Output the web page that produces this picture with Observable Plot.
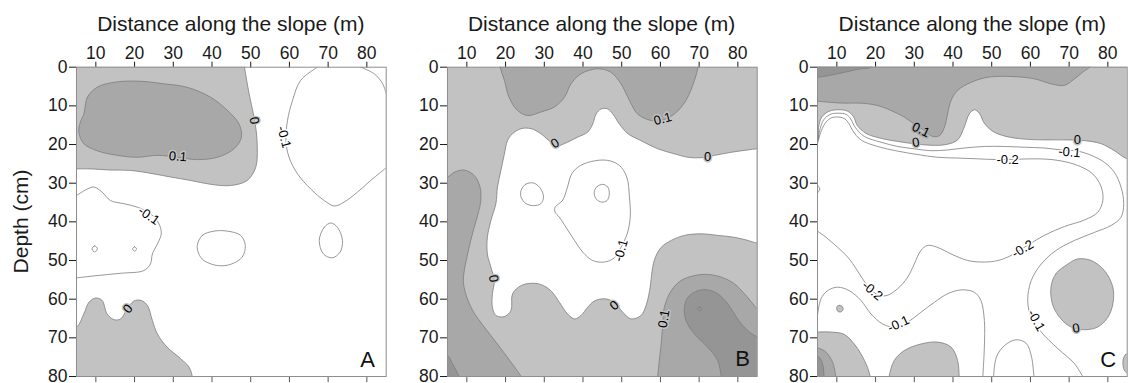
<!DOCTYPE html>
<html><head><meta charset="utf-8">
<script src="https://cdn.jsdelivr.net/npm/d3@7"></script>
<script src="https://cdn.jsdelivr.net/npm/@observablehq/plot@0.6"></script>
<style>
html,body{margin:0;padding:0;background:#fff;}
#wrap{position:relative;width:1131px;height:383px;overflow:hidden;font-family:"Liberation Sans",Arial,sans-serif;color:#1a1a1a;}
.xt{position:absolute;top:13px;width:320px;text-align:center;font-size:21px;line-height:21px;white-space:nowrap;}
.yt{position:absolute;width:200px;text-align:center;font-size:21px;line-height:21px;white-space:nowrap;transform:rotate(-90deg);}
</style></head>
<body><div id="wrap"></div>
<script>
// ---------- shared axis data ----------
const xTicks = [10, 20, 30, 40, 50, 60, 70, 80];
const yTicks = [0, 10, 20, 30, 40, 50, 60, 70, 80];
const xDomain = [5, 85];
const yDomain = [0, 80];
const xTitle = "Distance along the slope (m)";
const yTitle = "Depth (cm)";
const panelLetters = [
  {panel: "A", x: 80.2, d: 75.7},
  {panel: "B", x: 81.2, d: 75.5},
  {panel: "C", x: 80.1, d: 75.8}
];

// ---------- Panel A (x = distance m, d = depth cm) ----------
const A_zero_top = [[2,-3],[48.0,-3],[48.4,0],[49.6,6.9],[50.7,12.1],[51.3,15.5],[51.7,20.7],[51.3,25.9],[49.1,29.3],[44.8,30.6],[39.7,30.3],[34.5,29.3],[29.3,28.4],[25.0,27.6],[19.0,26.7],[13.8,26.6],[8.6,26.3],[5,26.3],[2,26.3]];
const A_p01_blob = [[6.9,12.1],[7.8,7.8],[10.3,5.2],[14.7,3.9],[20.7,3.6],[27.6,4.3],[33.6,5.2],[39.7,7.8],[44.0,11.2],[47.0,14.7],[47.6,18.1],[45.7,21.1],[41.4,23.3],[36.2,23.9],[31.0,23.3],[25.9,22.8],[20.7,23.3],[15.5,22.8],[10.3,21.6],[6.9,19.8],[5.6,16.8],[6.0,14.2]];
const A_zero_bottom = [[2,67.2],[5,67.2],[6.9,63.8],[8.2,60.8],[9.9,59.7],[11.6,60.3],[12.9,63.8],[14.7,65.3],[16.4,65.1],[18.1,62.5],[19.8,60.5],[21.6,60.3],[23.3,61.6],[24.6,65.5],[25.9,69.0],[28.4,72.4],[31.9,75.4],[34.1,77.6],[34.9,80],[35.2,83],[2,83]];
const A_m01_left = [[5,33.2],[7.8,31.5],[9.5,31.0],[11.6,32.3],[13.8,34.5],[17.2,35.3],[20.7,36.2],[24.1,37.9],[26.3,40.5],[26.9,43.1],[25.9,45.7],[24.6,48.3],[24.1,50.9],[22.4,52.6],[16.4,53.3],[10.3,53.9],[5,54.5]];
const A_dot1 = [[9.0,47.0],[9.7,46.2],[10.4,47.0],[9.7,47.8]];
const A_dot2 = [[19.5,47.0],[20.0,46.4],[20.5,47.0],[20.0,47.6]];
const A_m01_mid = [[36.2,46.1],[37.5,43.5],[40.5,42.4],[44.0,42.4],[47.4,43.5],[48.6,46.1],[47.8,49.1],[44.8,51.0],[41.4,51.3],[37.9,50.0],[36.6,48.3]];
const A_m01_small = [[67.7,44.8],[69.0,41.4],[70.7,40.3],[72.4,41.4],[73.7,44.8],[73.1,47.8],[71.1,49.3],[68.8,48.3]];
const A_m01_right = [[67.2,0],[62.9,3.4],[60.8,8.6],[59.5,13.8],[59.1,19.0],[59.9,23.3],[62.1,27.6],[65.5,31.5],[69.0,34.5],[71.6,35.9],[74.1,34.9],[77.6,32.3],[81.0,29.3],[85,26.0]];
const A_m01_corner = [[78.4,0],[81.9,1.7],[84.1,4.3],[85,6.9]];
const A_labels = [
  {x: 50.9, d: 13.8, t: "0", r: 80, halo: "g"},
  {x: 58.6, d: 18.1, t: "-0.1", r: 75, halo: "w"},
  {x: 31.2, d: 23.1, t: "0.1", r: 5, halo: "g"},
  {x: 23.7, d: 38.4, t: "-0.1", r: 35, halo: "w"},
  {x: 18.3, d: 62.5, t: "0", r: -50, halo: "g"}
];

// ---------- Panel B ----------
const B_p01_top = [[18.3,-3],[18.6,0],[19.7,3.4],[20.9,7.8],[23.1,11.2],[25.7,12.5],[29.1,11.6],[32.6,10.3],[35.2,7.8],[36.9,4.3],[39.5,1.7],[43.8,0.4],[47.2,1.3],[49.8,4.3],[52.0,8.6],[54.1,12.1],[57.6,13.8],[60.2,13.8],[63.6,12.1],[66.6,8.6],[68.8,3.4],[69.7,0],[70,-3]];
const B_neg_mid = [[88,21.1],[85,21.1],[82.6,21.4],[78.3,22.0],[74.0,22.8],[70.5,23.4],[67.1,23.3],[63.6,22.4],[59.3,21.1],[55.0,19.0],[51.6,17.2],[49.4,14.7],[47.7,12.1],[46.4,10.8],[44.7,10.8],[43.4,12.1],[42.5,14.7],[41.2,16.8],[38.6,18.1],[36.0,19.4],[33.4,20.3],[31.7,19.4],[29.1,17.2],[26.6,15.9],[24.0,15.9],[21.8,17.2],[20.5,19.0],[19.7,22.4],[18.8,26.7],[17.9,31.0],[17.5,35.3],[16.2,39.7],[15.3,44.0],[15.3,48.3],[16.2,51.7],[17.1,55.2],[16.6,58.6],[16.6,62.1],[17.5,64.2],[19.7,64.5],[21.4,62.9],[21.8,58.6],[24.0,56.5],[26.6,55.9],[29.1,56.2],[31.7,57.8],[33.9,60.8],[36.0,63.8],[37.8,65.1],[39.5,64.2],[41.2,62.1],[42.9,60.5],[45.5,59.9],[48.1,60.8],[50.3,63.4],[52.4,65.1],[55.0,64.2],[56.3,61.6],[57.2,57.8],[58.4,50.0],[60.2,46.6],[62.8,44.8],[66.2,43.5],[70.5,43.1],[74.8,43.5],[79.1,44.0],[82.6,44.8],[85,45.5],[88,45.5]];
const B_m01_face = [[32.8,36.2],[34.7,34.5],[36.0,31.0],[36.9,28.0],[38.6,25.9],[42.1,24.4],[46.4,24.1],[49.4,25.4],[51.3,28.4],[52.0,33.6],[52.2,38.8],[51.4,43.1],[49.8,46.6],[48.1,49.3],[45.5,50.4],[42.5,50.0],[39.9,47.8],[37.8,44.8],[35.6,41.4],[33.9,38.8],[32.8,37.5]];
const B_m01_eye1 = [[24.0,31.9],[25.3,30.2],[27.4,30.0],[29.1,31.5],[29.8,33.6],[29.1,35.3],[27.4,35.8],[25.3,35.3],[24.0,33.6]];
const B_m01_eye2 = [[42.9,32.3],[43.6,30.9],[45.1,30.3],[46.4,31.0],[46.8,32.8],[46.2,34.5],[44.9,34.9],[43.4,34.1]];
const B_p01_left = [[2,28.4],[5,28.4],[6.7,27.2],[9.3,26.6],[11.9,28.0],[13.4,31.0],[13.6,34.5],[12.9,37.9],[11.9,41.4],[11.0,44.8],[10.2,48.3],[9.5,51.7],[9.1,55.2],[9.7,58.6],[11.5,62.9],[14.5,67.2],[17.9,71.6],[21.4,76.3],[24.0,80],[25.5,83],[2,83]];
const B_p02_corner = [[2,74.6],[5,74.6],[6.3,76.7],[8.0,80],[9,83],[2,83]];
const B_p01_right = [[59.0,83],[59.3,80],[59.7,75.9],[60.2,71.6],[60.6,66.4],[61.0,62.1],[62.8,57.8],[65.3,55.2],[68.8,53.9],[72.2,53.6],[75.7,54.3],[79.1,56.0],[81.7,58.6],[83.9,61.2],[85,62.5],[88,64],[88,83]];
const B_p02_right = [[76,83],[75.7,80],[74.8,75.9],[72.2,72.4],[68.8,69.0],[66.6,65.5],[66.2,62.1],[67.1,59.5],[69.7,57.8],[72.2,57.6],[74.8,58.6],[77.4,61.2],[79.1,63.8],[80.9,66.4],[83.0,68.5],[85,69.8],[88,71],[88,83]];
const B_p03_dot = [[69.5,62.5],[70.1,62.0],[70.7,62.5],[70.1,63.0]];
const B_labels = [
  {x: 60.6, d: 13.4, t: "0.1", r: -15, halo: "g"},
  {x: 32.8, d: 19.7, t: "0", r: -30, halo: "g"},
  {x: 72.2, d: 23.1, t: "0", r: 0, halo: "g"},
  {x: 49.8, d: 47.4, t: "-0.1", r: -75, halo: "w"},
  {x: 16.9, d: 54.7, t: "0", r: 80, halo: "g"},
  {x: 48.1, d: 61.6, t: "0", r: -40, halo: "g"},
  {x: 60.9, d: 65.1, t: "0.1", r: -80, halo: "g"}
];

// ---------- Panel C ----------
const C_zero_top = [[2,-3],[88,-3],[88,23.7],[85,23.7],[81.7,21.6],[78.3,19.8],[74.0,19.0],[68.8,18.8],[63.6,18.8],[58.4,18.6],[53.7,17.9],[50.3,16.6],[48.1,14.5],[46.8,11.9],[45.5,11.0],[44.2,12.1],[42.9,15.5],[41.2,18.8],[38.2,20.0],[34.3,20.2],[30.0,19.8],[25.7,19.2],[21.4,18.4],[17.5,17.1],[15.3,15.1],[14.3,12.8],[12.8,11.4],[10.6,11.0],[8.0,11.4],[6.1,12.9],[5.3,15.5],[5,19.0],[2,19.0]];
const C_p01_top = [[2,-3],[2,8.8],[5,8.8],[8.4,9.1],[11.9,9.3],[16.2,9.3],[20.5,9.9],[24.0,11.2],[27.4,12.9],[30.0,14.7],[32.6,16.4],[34.7,17.9],[36.5,17.7],[37.8,15.5],[38.6,12.1],[39.5,8.6],[41.2,6.0],[44.7,3.9],[49.0,2.6],[55.0,2.4],[61.0,3.0],[65.3,4.3],[68.8,4.7],[71.4,3.0],[74.0,0.9],[75.3,0],[77,-3]];
const C_p02_top = [[2,-3],[2,2.6],[5,2.6],[10.2,1.7],[16.2,0.4],[18.8,0],[20,-3]];
const C_m01_main = [[5,19.4],[5.7,15.9],[6.6,13.6],[8.3,12.2],[10.6,11.9],[12.4,12.2],[13.6,13.4],[14.7,15.5],[17.1,17.9],[21.4,19.4],[25.7,20.5],[30.0,21.1],[34.3,21.6],[38.6,21.4],[42.9,20.9],[48.1,20.5],[53.3,20.5],[58.4,20.7],[63.6,20.9],[67.9,21.4],[72.2,21.7],[75.7,22.8],[79.1,24.6],[81.7,27.2],[83.4,31.0],[84.1,35.3],[83.4,38.8],[80.9,40.9],[76.6,42.7],[71.4,44.8],[66.6,47.4],[62.8,50.9],[60.2,55.2],[59.3,60.3],[60.2,64.7],[62.8,68.5],[67.1,72.8],[71.4,76.7],[73.5,80]];
const C_m02_main = [[5,19.8],[6.0,16.4],[7.2,14.2],[8.6,13.1],[10.6,12.9],[12.1,13.4],[13.2,14.7],[14.1,16.4],[16.2,18.8],[20.5,20.5],[25.7,21.7],[30.9,22.6],[36.0,23.3],[41.2,23.5],[46.4,23.7],[51.6,23.9],[56.7,23.8],[61.9,23.7],[67.1,24.1],[72.2,25.4],[76.1,27.6],[78.3,31.0],[78.7,34.5],[77.4,37.5],[74.0,39.5],[68.8,41.2],[63.6,43.5],[58.4,46.6],[55.0,48.7],[51.6,50.0],[48.1,50.4],[43.8,50.0],[39.5,48.3],[36.0,46.6],[33.4,46.1],[31.7,47.4],[30.0,50.9],[28.3,54.3],[25.7,57.3],[22.7,59.1],[20.1,58.6],[17.5,56.0],[15.3,52.6],[12.8,49.1],[10.2,46.6],[7.2,44.0],[5,42.4]];
const C_m01_low = [[5,64.2],[5.9,59.9],[7.6,57.8],[10.2,56.9],[13.2,57.8],[16.2,60.3],[18.8,63.8],[21.8,66.4],[24.8,67.2],[28.3,65.9],[31.7,63.4],[35.2,60.8],[38.6,58.6],[42.1,57.6],[45.5,58.2],[47.2,60.3],[48.1,65.5],[48.1,72.4],[47.7,80]];
const C_arc_bottom = [[50.5,80],[51.2,75.0],[53.3,72.0],[56.3,70.5],[58.9,71.4],[60.3,75.0],[60.9,80]];
const C_edge_bump = [[5,30.5],[5.6,31.5],[5,32.5]];
const C_zero_right = [[65.3,56.9],[66.6,53.4],[69.7,50.9],[72.2,49.6],[75.7,50.0],[79.1,52.6],[81.3,56.9],[81.3,61.2],[80.0,64.7],[77.4,67.2],[74.0,67.9],[70.5,67.2],[67.9,65.1],[65.8,61.6]];
const C_zero_dot = [[10.0,62.0],[10.6,61.6],[11.4,61.9],[11.6,62.7],[11.0,63.3],[10.2,63.1]];
const C_zero_bl = [[2,68.5],[5,68.5],[8.4,68.5],[11.9,69.1],[14.5,71.6],[16.2,74.1],[17.9,77.6],[18.6,80],[19,83],[2,83]];
const C_p01_bl = [[2,72.6],[5,72.6],[7.2,73.7],[8.9,76.3],[9.7,80],[10,83],[2,83]];
const C_p02_bl = [[2,74.6],[5,74.6],[6.3,76.7],[6.7,80],[7,83],[2,83]];
const C_zero_bm = [[23.2,83],[23.5,80],[24.8,75.9],[27.4,73.3],[31.7,71.6],[36.0,71.1],[39.5,72.4],[41.2,75.9],[41.6,80],[41.8,83]];
const C_zero_edge = [[88,73.8],[84.6,74.3],[84.0,75.5],[83.9,76.7],[84.1,78.0],[84.8,79.0],[88,79.5]];
const C_labels = [
  {x: 31.7, d: 16.2, t: "0.1", r: 25, halo: "d"},
  {x: 30.4, d: 19.5, t: "0", r: -10, halo: "g"},
  {x: 72.1, d: 18.7, t: "0", r: 0, halo: "g"},
  {x: 70.1, d: 22.0, t: "-0.1", r: 5, halo: "w"},
  {x: 54.1, d: 24.0, t: "-0.2", r: 0, halo: "w"},
  {x: 58.0, d: 47.0, t: "-0.2", r: -30, halo: "w"},
  {x: 19.2, d: 57.8, t: "-0.2", r: 40, halo: "w"},
  {x: 25.9, d: 66.4, t: "-0.1", r: -25, halo: "w"},
  {x: 61.5, d: 65.5, t: "-0.1", r: 60, halo: "w"},
  {x: 71.8, d: 67.5, t: "0", r: -10, halo: "g"}
];

// ---------- styling ----------
const SHADE = {w: "#ffffff", g: "#c2c2c2", d: "#a8a8a8", k: "#959595"};
const LINE = "#7d7d7d";
const AXIS = "#555";
const FONT = "'Liberation Sans', Arial, Helvetica, sans-serif";

function fillShape(pts, shade) {
  return Plot.line(pts, {x: p => p[0], y: p => p[1], curve: "catmull-rom-closed",
    fill: SHADE[shade], stroke: LINE, strokeWidth: 0.8, clip: true});
}
function lineShape(pts, closed) {
  return Plot.line(pts, {x: p => p[0], y: p => p[1], curve: closed ? "catmull-rom-closed" : "catmull-rom",
    fill: "none", stroke: LINE, strokeWidth: 0.8, clip: true});
}
function labelMarks(labels) {
  return Object.keys(SHADE).map(h => Plot.text(labels.filter(l => l.halo === h), {
    x: "x", y: "d", text: "t", rotate: "r", fontSize: 13, fill: "#000",
    stroke: SHADE[h], strokeWidth: 3, paintOrder: "stroke"
  }));
}

const wrap = document.getElementById("wrap");
const FRAME_L = 76, FRAME_W = 309.7, SVG_W = 390, PANEL_STEP = 370.7;

function panel(i, base, fills, lines, labels) {
  const letter = panelLetters[i];
  const marks = [];
  if (base !== "w") marks.push(Plot.frame({fill: SHADE[base], stroke: "none"}));
  fills.forEach(([pts, s]) => marks.push(fillShape(pts, s)));
  lines.forEach(([pts, c]) => marks.push(lineShape(pts, c)));
  marks.push(...labelMarks(labels));
  marks.push(Plot.text([letter], {x: "x", y: "d", text: "panel", fontSize: 22, fill: "#111"}));
  marks.push(Plot.ruleX(xTicks, {x: t => t, y1: () => 80, y2: () => 81.6, stroke: AXIS}));
  marks.push(Plot.frame({stroke: "#8e8e8e"}));
  const svg = Plot.plot({
    width: SVG_W, height: 383,
    marginLeft: FRAME_L, marginRight: SVG_W - FRAME_L - FRAME_W, marginTop: 66.7, marginBottom: 7,
    style: {fontSize: "17.5px", fontFamily: FONT, background: "transparent", overflow: "visible", color: "#1a1a1a"},
    x: {domain: xDomain, axis: "top", ticks: xTicks, tickSize: 6, tickPadding: 2, label: null},
    y: {domain: yDomain, reverse: true, ticks: yTicks, tickSize: 7, tickPadding: 2, label: null},
    marks
  });
  svg.style.position = "absolute";
  svg.style.left = (i * PANEL_STEP) + "px";
  svg.style.top = "0px";
  wrap.appendChild(svg);
  const t = document.createElement("div");
  t.className = "xt";
  t.textContent = xTitle;
  t.style.left = (i * PANEL_STEP + FRAME_L + FRAME_W / 2 - 160) + "px";
  wrap.appendChild(t);
}

panel(0, "w",
  [[A_zero_top, "g"], [A_p01_blob, "d"], [A_zero_bottom, "g"]],
  [[A_m01_left, false], [A_dot1, true], [A_dot2, true], [A_m01_mid, true], [A_m01_small, true], [A_m01_right, false], [A_m01_corner, false]],
  A_labels);

panel(1, "g",
  [[B_p01_top, "d"], [B_neg_mid, "w"], [B_p01_left, "d"], [B_p02_corner, "k"], [B_p01_right, "d"], [B_p02_right, "k"], [B_p03_dot, "k"]],
  [[B_m01_face, true], [B_m01_eye1, true], [B_m01_eye2, true]],
  B_labels);

panel(2, "w",
  [[C_zero_top, "g"], [C_p01_top, "d"], [C_p02_top, "k"], [C_zero_right, "g"], [C_zero_dot, "g"], [C_zero_bl, "g"], [C_p01_bl, "d"], [C_p02_bl, "k"], [C_zero_bm, "g"], [C_zero_edge, "g"]],
  [[C_m01_main, false], [C_m02_main, false], [C_m01_low, false], [C_arc_bottom, false], [C_edge_bump, false]],
  C_labels);

const yt = document.createElement("div");
yt.className = "yt";
yt.textContent = yTitle;
yt.style.left = (20 - 100) + "px";
yt.style.top = (221 - 10.5) + "px";
wrap.appendChild(yt);
</script></body></html>
